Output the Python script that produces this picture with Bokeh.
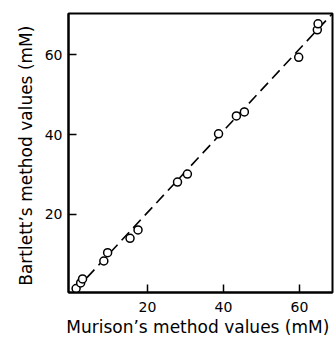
from bokeh.plotting import figure
from bokeh.models import Range1d, FixedTicker
from bokeh.embed import file_html
from bokeh.resources import INLINE

# Data
murison = [1.2, 2.4, 2.9, 8.5, 9.5, 15.4, 17.5, 27.9, 30.5, 38.7, 43.4, 45.5, 59.8, 64.7, 64.9]
bartlett = [1.4, 2.8, 3.8, 8.3, 10.4, 14.0, 16.1, 28.1, 30.1, 40.2, 44.7, 45.7, 59.4, 66.3, 67.8]
fit_x = [1.0, 68.7]
fit_y = [1.0, 70.4]
x_ticks = [20, 40, 60]
y_ticks = [20, 40, 60]
x_title = "Murison\u2019s  method values (mM)"
y_title = "Bartlett\u2019s  method values (mM)"

FONT = "DejaVu Sans"

p = figure(width=335, height=339, output_backend="svg", toolbar_location=None,
           x_range=Range1d(-0.8, 68.7), y_range=Range1d(0.4, 70.4),
           min_border_left=68, min_border_right=3, min_border_top=13, min_border_bottom=43)

p.grid.visible = False
p.background_fill_color = "white"
p.border_fill_color = "white"
p.outline_line_color = "black"
p.outline_line_width = 2

p.xaxis[0].ticker = FixedTicker(ticks=x_ticks)
p.yaxis[0].ticker = FixedTicker(ticks=y_ticks)

for ax in (p.xaxis[0], p.yaxis[0]):
    ax.minor_tick_line_color = None
    ax.major_tick_in = 8
    ax.major_tick_out = 0
    ax.major_tick_line_width = 1.5
    ax.major_tick_line_color = "black"
    ax.axis_line_width = 2
    ax.axis_line_color = "black"
    ax.major_label_text_font = FONT
    ax.major_label_text_font_size = "14px"
    ax.major_label_text_color = "black"
    ax.axis_label_text_font = FONT
    ax.axis_label_text_font_size = "17px"
    ax.axis_label_text_font_style = "normal"
    ax.axis_label_text_color = "black"

p.xaxis.axis_label = x_title
p.yaxis.axis_label = y_title
p.xaxis.major_label_standoff = 9
p.xaxis.axis_label_standoff = 2
p.yaxis.major_label_standoff = 6
p.yaxis.axis_label_standoff = 6

p.line(fit_x, fit_y, line_color="black", line_width=1.6, line_dash="11 6")
p.scatter(murison, bartlett, size=8, marker="circle", fill_color="white",
          line_color="black", line_width=1.5)

open("out.html", "w").write(file_html(p, INLINE))
